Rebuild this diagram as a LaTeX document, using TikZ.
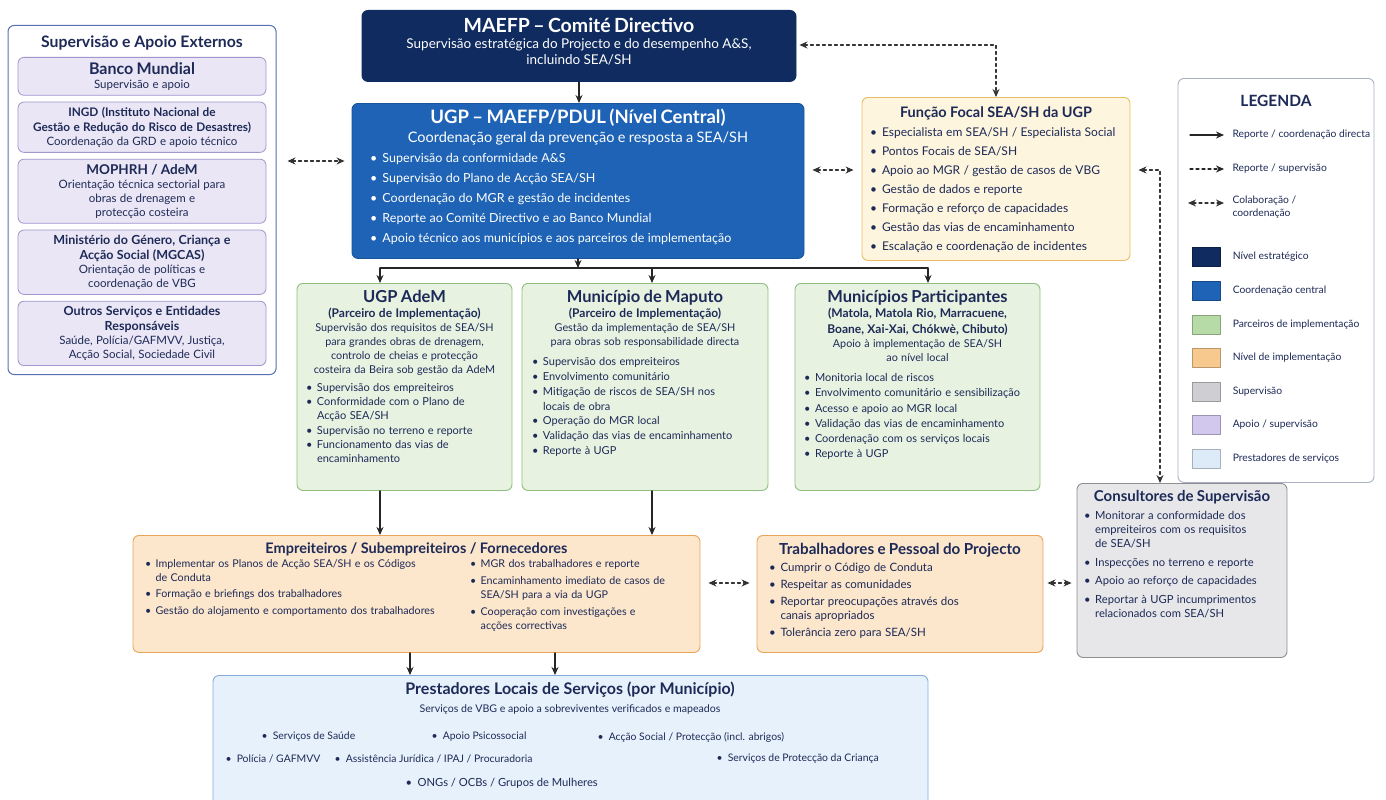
\documentclass[tikz,border=0pt]{standalone}
\usepackage{fontspec}
\setmainfont{Lato}
\usetikzlibrary{arrows.meta,positioning}
\setlength{\parindent}{0pt}
\definecolor{navy}{HTML}{0F2B5F}
\definecolor{ugpblue}{HTML}{1E63B5}
\definecolor{ink}{HTML}{1D2A57}
\definecolor{grnfill}{HTML}{E8F2E1}
\definecolor{grnline}{HTML}{8FBF7F}
\definecolor{ylwfill}{HTML}{FEF5DE}
\definecolor{ylwline}{HTML}{E9BC66}
\definecolor{orgfill}{HTML}{FCE6CC}
\definecolor{orgline}{HTML}{EBA45A}
\definecolor{gryfill}{HTML}{E7E7E9}
\definecolor{gryline}{HTML}{8E8E93}
\definecolor{plpfill}{HTML}{EAE6F5}
\definecolor{plpline}{HTML}{A196CE}
\definecolor{lbfill}{HTML}{E7F1FB}
\definecolor{lbline}{HTML}{86ABD7}
\definecolor{panelline}{HTML}{5471B3}
\definecolor{legline}{HTML}{A8B0C2}
\definecolor{swgreen}{HTML}{B7DBA7}
\definecolor{sworange}{HTML}{F8C98F}
\definecolor{swgrey}{HTML}{CFCFD3}
\definecolor{swlilac}{HTML}{D2C8EE}
\definecolor{swsky}{HTML}{DDEBF9}
% titles, centred lines and bullets inside the boxes
\newcommand{\ttl}[3]{{\centering\fontsize{#1}{#2}\selectfont\bfseries #3\par}}
\newcommand{\ctr}[3]{{\centering\fontsize{#1}{#2}\selectfont #3\par}}
\newcommand{\itm}[1]{\par\noindent\hangindent=1em\hangafter=1\hbox to 1em{\textbullet\hfil}#1\par}
\begin{document}
\begin{tikzpicture}[x=1pt,y=-1pt,line join=round,line cap=round,>={Stealth[length=8pt,width=7pt]},
	frame/.style={draw,rounded corners=6pt,line width=.9pt,anchor=north,inner sep=0pt},
	darkcard/.style={frame,fill=navy,draw=navy},
	bluecard/.style={frame,fill=ugpblue,draw=ugpblue!85!black},
	greencard/.style={frame,fill=grnfill,draw=grnline},
	focalcard/.style={frame,fill=ylwfill,draw=ylwline},
	orangecard/.style={frame,fill=orgfill,draw=orgline},
	greycard/.style={frame,fill=gryfill,draw=gryline},
	skycard/.style={frame,fill=lbfill,draw=lbline},
	lilaccard/.style={draw=plpline,fill=plpfill,rounded corners=6pt,line width=.8pt,anchor=north,text width=234pt,inner xsep=7pt,inner ysep=5pt,text=ink,execute at begin node=\raggedright},
	cardtext/.style={anchor=north,inner xsep=8pt,inner ysep=7pt,text=ink,execute at begin node=\raggedright},
	rep/.style={->,line width=1.1pt,draw=black!85},
	collab/.style={<->,dashed,line width=1.1pt,draw=black!80},
	legtxt/.style={anchor=west,text=ink,font=\fontsize{10.3}{12.5}\selectfont,align=left},
	swatch/.style={minimum width=28pt,minimum height=19pt,inner sep=0pt,draw=#1!75!black,fill=#1},
	pitem/.style={anchor=west,text=ink,font=\fontsize{10.4}{13}\selectfont}]
	\useasboundingbox (0,0) rectangle (1386,800);
	% external support panel
	\node[draw=panelline,line width=1pt,rounded corners=6pt,fill=white,minimum width=268pt,minimum height=349pt,anchor=north] (ext) at (142,25) {};
	\node[text=ink,font=\fontsize{15.8}{18}\selectfont\bfseries] (exttitle) at (142,43) {Supervisão e Apoio Externos};
	\node[lilaccard] (wb) at (142,57) {\ttl{16}{19}{Banco Mundial}\ctr{11.5}{14}{Supervisão e apoio}};
	\node[lilaccard,below=6pt of wb] (ingd) {\ttl{11.8}{15}{INGD (Instituto Nacional de\\Gestão e Redução do Risco de Desastres)}\ctr{11.5}{14}{Coordenação da GRD e apoio técnico}};
	\node[lilaccard,below=6pt of ingd] (mop) {\ttl{13.5}{16}{MOPHRH / AdeM}\ctr{11.5}{14}{Orientação técnica sectorial para\\obras de drenagem e\\protecção costeira}};
	\node[lilaccard,below=6pt of mop] (mgcas) {\ttl{12.5}{15}{Ministério do Género, Criança e\\Acção Social (MGCAS)}\ctr{11.5}{14}{Orientação de políticas e\\coordenação de VBG}};
	\node[lilaccard,below=6pt of mgcas] (others) {\ttl{12.5}{15}{Outros Serviços e Entidades\\Responsáveis}\ctr{11.5}{14}{Saúde, Polícia/GAFMVV, Justiça,\\Acção Social, Sociedade Civil}};
	% steering committee and PIU
	\node[darkcard,minimum width=434pt,minimum height=71pt] (maefp) at (579,10) {};
	\node[cardtext,text=white,text width=418pt,inner ysep=8pt] (maefptxt) at (maefp.north) {%
		\ttl{19.5}{23}{MAEFP – Comité Directivo}
		\ctr{13.5}{16}{Supervisão estratégica do Projecto e do desempenho A\&S,\\incluindo SEA/SH}};
	\node[bluecard,minimum width=452pt,minimum height=155pt] (ugp) at (578,103) {};
	\node[cardtext,text=white,text width=436pt,inner ysep=6pt] (ugptxt) at (ugp.north) {%
		\ttl{18.5}{21}{UGP – MAEFP/PDUL (Nível Central)}
		\ctr{14.5}{19}{Coordenação geral da prevenção e resposta a SEA/SH}
		{\fontsize{12.5}{20}\selectfont\leftskip=10pt
		\itm{Supervisão da conformidade A\&S}
		\itm{Supervisão do Plano de Acção SEA/SH}
		\itm{Coordenação do MGR e gestão de incidentes}
		\itm{Reporte ao Comité Directivo e ao Banco Mundial}
		\itm{Apoio técnico aos municípios e aos parceiros de implementação}}};
	\node[focalcard,minimum width=268pt,minimum height=163pt] (focal) at (996,97) {};
	\node[cardtext,text width=256pt,inner xsep=6pt,inner ysep=10pt] (focaltxt) at (focal.north) {%
		\ttl{14.5}{20}{Função Focal SEA/SH da UGP}
		{\fontsize{12}{19}\selectfont\leftskip=2pt
		\itm{Especialista em SEA/SH / Especialista Social}
		\itm{Pontos Focais de SEA/SH}
		\itm{Apoio ao MGR / gestão de casos de VBG}
		\itm{Gestão de dados e reporte}
		\itm{Formação e reforço de capacidades}
		\itm{Gestão das vias de encaminhamento}
		\itm{Escalação e coordenação de incidentes}}};
	% implementing partners
	\node[greencard,minimum width=215pt,minimum height=207pt] (adem) at (404.5,283) {};
	\node[cardtext,text width=203pt,inner xsep=6pt] (ademtxt) at (adem.north) {%
		\ttl{16.5}{19}{UGP AdeM}
		\ttl{12}{15.5}{(Parceiro de Implementação)}
		\ctr{10.8}{14}{Supervisão dos requisitos de SEA/SH\\para grandes obras de drenagem,\\controlo de cheias e protecção\\costeira da Beira sob gestão da AdeM}
		\vspace{3pt}
		{\fontsize{11}{14.3}\selectfont\leftskip=3pt
		\itm{Supervisão dos empreiteiros}
		\itm{Conformidade com o Plano de\newline Acção SEA/SH}
		\itm{Supervisão no terreno e reporte}
		\itm{Funcionamento das vias de\newline encaminhamento}}};
	\node[greencard,minimum width=246pt,minimum height=207pt] (maputo) at (645,283) {};
	\node[cardtext,text width=232pt,inner xsep=7pt] (maputotxt) at (maputo.north) {%
		\ttl{16.5}{19}{Município de Maputo}
		\ttl{12}{15.5}{(Parceiro de Implementação)}
		\ctr{10.8}{14}{Gestão da implementação de SEA/SH\\para obras sob responsabilidade directa}
		\vspace{5pt}
		{\fontsize{11}{14.8}\selectfont\leftskip=3pt
		\itm{Supervisão dos empreiteiros}
		\itm{Envolvimento comunitário}
		\itm{Mitigação de riscos de SEA/SH nos\newline locais de obra}
		\itm{Operação do MGR local}
		\itm{Validação das vias de encaminhamento}
		\itm{Reporte à UGP}}};
	\node[greencard,minimum width=245pt,minimum height=207pt] (partic) at (917.5,283) {};
	\node[cardtext,text width=233pt,inner xsep=6pt] (partictxt) at (partic.north) {%
		\ttl{16.5}{19}{Municípios Participantes}
		\ttl{12}{15.5}{(Matola, Matola Rio, Marracuene,\\Boane, Xai-Xai, Chókwè, Chibuto)}
		\ctr{10.8}{14}{Apoio à implementação de SEA/SH\\ao nível local}
		\vspace{5pt}
		{\fontsize{11}{15.2}\selectfont\leftskip=3pt
		\itm{Monitoria local de riscos}
		\itm{Envolvimento comunitário e sensibilização}
		\itm{Acesso e apoio ao MGR local}
		\itm{Validação das vias de encaminhamento}
		\itm{Coordenação com os serviços locais}
		\itm{Reporte à UGP}}};
	% contractors, workers, supervision consultants
	\node[orangecard,minimum width=567pt,minimum height=117pt] (contr) at (416.5,535) {};
	\node[cardtext,text width=551pt,inner ysep=8pt] (contrtxt) at (contr.north) {%
		\ttl{14.5}{19}{Empreiteiros / Subempreiteiros / Fornecedores}
		\vspace{2pt}
		\begin{minipage}[t]{329pt}\fontsize{10.7}{13.5}\selectfont\raggedright\setlength{\parskip}{3pt}\leftskip=4pt
		\itm{Implementar os Planos de Acção SEA/SH e os Códigos\newline de Conduta}
		\itm{Formação e briefings dos trabalhadores}
		\itm{Gestão do alojamento e comportamento dos trabalhadores}
		\end{minipage}%
		\begin{minipage}[t]{222pt}\fontsize{10.7}{14.5}\selectfont\raggedright\setlength{\parskip}{2pt}
		\itm{MGR dos trabalhadores e reporte}
		\itm{Encaminhamento imediato de casos de\newline SEA/SH para a via da UGP}
		\itm{Cooperação com investigações e\newline acções correctivas}
		\end{minipage}};
	\node[orangecard,minimum width=286pt,minimum height=117pt] (work) at (900,535) {};
	\node[cardtext,text width=270pt,inner ysep=8pt] (worktxt) at (work.north) {%
		\ttl{15.2}{19}{Trabalhadores e Pessoal do Projecto}
		{\fontsize{11.5}{14}\selectfont\setlength{\parskip}{3pt}\leftskip=4pt
		\itm{Cumprir o Código de Conduta}
		\itm{Respeitar as comunidades}
		\itm{Reportar preocupações através dos\newline canais apropriados}
		\itm{Tolerância zero para SEA/SH}}};
	\node[greycard,minimum width=210pt,minimum height=174pt] (cons) at (1182,483) {};
	\node[cardtext,text width=196pt,inner xsep=7pt] (constxt) at (cons.north) {%
		\ttl{15}{19}{Consultores de Supervisão}
		{\fontsize{11.2}{14}\selectfont\setlength{\parskip}{4.5pt}
		\itm{Monitorar a conformidade dos\newline empreiteiros com os requisitos\newline de SEA/SH}
		\itm{Inspecções no terreno e reporte}
		\itm{Apoio ao reforço de capacidades}
		\itm{Reportar à UGP incumprimentos\newline relacionados com SEA/SH}}};
	% local service providers
	\node[skycard,minimum width=715pt,minimum height=140pt] (prest) at (570.5,675) {};
	\node[text=ink,font=\fontsize{16}{19}\selectfont\bfseries] (prtitle) at (570,690) {Prestadores Locais de Serviços (por Município)};
	\node[text=ink,font=\fontsize{10.6}{13}\selectfont] (prsub) at (570,710) {Serviços de VBG e apoio a sobreviventes verificados e mapeados};
	\foreach \px/\py/\lbl [count=\k] in {258/737/{Serviços de Saúde},428/737/{Apoio Psicossocial},594/737/{Acção Social / Protecção (incl. abrigos)},222/759/{Polícia / GAFMVV},331/759/{Assistência Jurídica / IPAJ / Procuradoria},713/759/{Serviços de Protecção da Criança}}
		\node[pitem] (pi\k) at (\px,\py) {\textbullet\enspace\lbl};
	\node[pitem,font=\fontsize{11.2}{14}\selectfont] (pi7) at (402,783) {\textbullet\enspace ONGs / OCBs / Grupos de Mulheres};
	% legend
	\node[draw=legline,line width=.9pt,rounded corners=6pt,fill=white,minimum width=196pt,minimum height=404pt,anchor=north] (leg) at (1276,78) {};
	\node[text=ink,font=\fontsize{15.5}{18}\selectfont\bfseries] (legtitle) at (1276,101) {LEGENDA};
	\coordinate (l1a) at (1190,135); \coordinate (l1b) at (1224,135);
	\coordinate (l2a) at (1190,169); \coordinate (l2b) at (1224,169);
	\coordinate (l3a) at (1188,203); \coordinate (l3b) at (1224,203);
	\draw[rep] (l1a) -- (l1b);
	\draw[rep,dashed] (l2a) -- (l2b);
	\draw[collab] (l3a) -- (l3b);
	\node[legtxt] (l1t) at (1229,135) {Reporte / coordenação directa};
	\node[legtxt] (l2t) at (1229,169) {Reporte / supervisão};
	\node[legtxt] (l3t) at (1229,207) {Colaboração /\\coordenação};
	\foreach \swcol/\swlab [count=\k] in {navy/{Nível estratégico},ugpblue/{Coordenação central},swgreen/{Parceiros de implementação},sworange/{Nível de implementação},swgrey/{Supervisão},swlilac/{Apoio / supervisão},swsky/{Prestadores de serviços}}{
		\node[swatch=\swcol] (sw\k) at (1206,{257+(\k-1)*33.6}) {};
		\node[legtxt,right=9pt of sw\k] (sl\k) {\swlab};
	}
	% connectors
	\coordinate (l0) at (0,45);
	\coordinate (lvl) at (0,161);
	\coordinate (lv2) at (0,170);
	\coordinate (mid) at (0,583);
	\coordinate (b1) at (380,268); \coordinate (b2) at (652,268); \coordinate (b3) at (928,268);
	\draw[rep] (maefp.south) -- (maefp.south |- ugp.north);
	\draw[rep] (ugp.south) -- (ugp.south |- b1);
	\draw[line width=1.1pt,draw=black!85] (b1) -- (b3);
	\draw[rep] (b1) -- (b1 |- adem.north);
	\draw[rep] (b2) -- (b2 |- maputo.north);
	\draw[rep] (b3) -- (b3 |- partic.north);
	\draw[rep] ([xshift=-24.5pt]adem.south) -- ([xshift=-24.5pt]adem.south |- contr.north);
	\draw[rep] ([xshift=7pt]maputo.south) -- ([xshift=7pt]maputo.south |- contr.north);
	\draw[rep] ([xshift=-6.5pt]contr.south) -- ([xshift=-6.5pt]contr.south |- prest.north);
	\draw[rep] ([xshift=138.5pt]contr.south) -- ([xshift=138.5pt]contr.south |- prest.north);
	\draw[collab,shorten <=11pt,shorten >=7pt] (ext.east |- lvl) -- (ugp.west |- lvl);
	\draw[collab,shorten <=8pt,shorten >=8pt] (ugp.east |- lv2) -- (focal.west |- lv2);
	\draw[collab,shorten <=8pt] (focal.east |- lv2) -| ([xshift=-22pt]cons.north);
	\draw[collab,shorten <=3pt] (maefp.east |- l0) -| (focal.north);
	\draw[collab,shorten <=8pt,shorten >=7pt] (contr.east |- mid) -- (work.west |- mid);
	\draw[collab,shorten <=4pt,shorten >=5pt] (work.east |- mid) -- (cons.west |- mid);
\end{tikzpicture}
\end{document}
